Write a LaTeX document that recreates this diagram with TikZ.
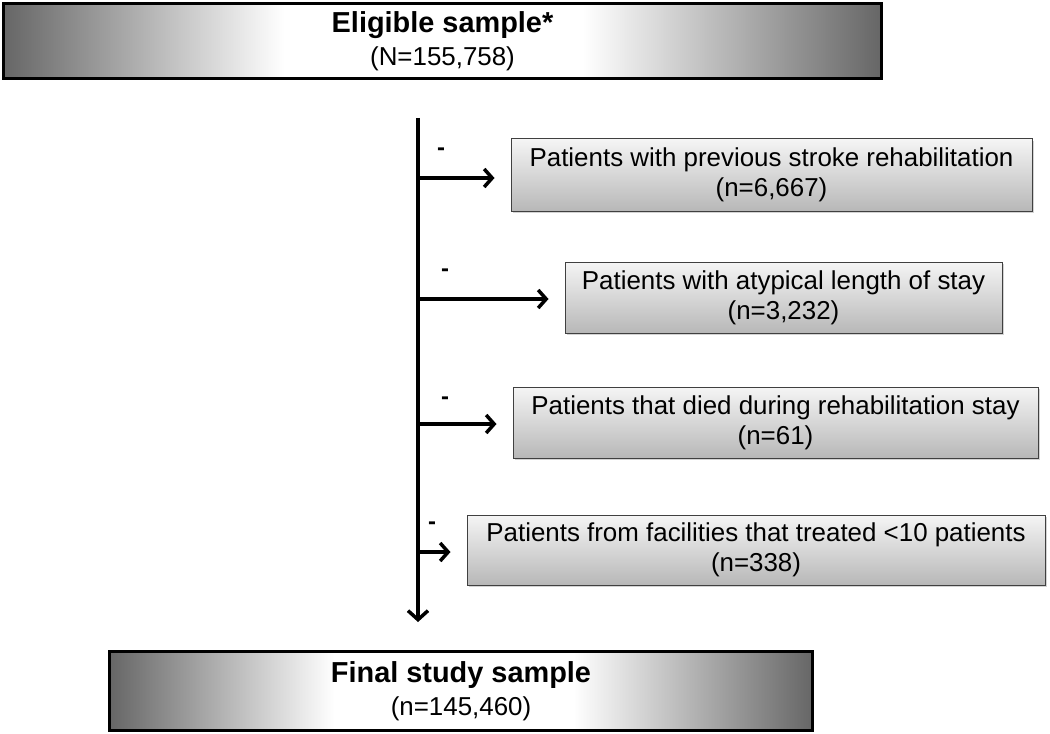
\documentclass[tikz,border=0pt]{standalone}
\usepackage{fontspec}
\setmainfont{Liberation Sans}
\usetikzlibrary{arrows.meta,shadows}
\definecolor{edgegray}{gray}{0.40}
\definecolor{sbtop}{gray}{0.96}
\definecolor{sbbot}{gray}{0.72}
\definecolor{sbline}{gray}{0.25}
\pgfdeclarehorizontalshading{barshade}{100bp}{color(0bp)=(edgegray); color(25bp)=(edgegray); color(41bp)=(white); color(58bp)=(white); color(75bp)=(edgegray); color(100bp)=(edgegray)}
\tikzset{
  mainbox/.style={draw=black, line width=3bp, shading=barshade, inner sep=0bp, align=center, font=\fontsize{26}{33}\selectfont},
  sidebox/.style={draw=sbline, line width=1bp, top color=sbtop, bottom color=sbbot, align=center, inner sep=0bp,
    font=\fontsize{26}{30}\selectfont, drop shadow={opacity=0.35, shadow xshift=2bp, shadow yshift=-2bp}},
  spine/.style={line width=3.5bp, -{Straight Barb[length=9bp,width=20bp,line width=3.5bp]}},
  branch/.style={line width=3.5bp, -{Straight Barb[length=8bp,width=18bp,line width=3.5bp]}, shorten >=16bp},
  minus/.style={font=\bfseries\fontsize{24}{28}\selectfont, inner sep=0pt}
}
\begin{document}
\begin{tikzpicture}[x=1bp,y=-1bp]
\useasboundingbox (0,0) rectangle (1050,734);
\node[mainbox, minimum width=878bp, minimum height=75bp] (top) at (442.5,41)
  {{\bfseries\fontsize{29}{33}\selectfont Eligible sample*}\\(N=155,758)};
\node[mainbox, minimum width=703bp, minimum height=79bp] (bot) at (461,691)
  {{\bfseries\fontsize{29}{33}\selectfont Final study sample}\\(n=145,460)};

\node[sidebox, minimum width=521bp, minimum height=72bp] (s1) at (771.5,175)
  {Patients with previous stroke rehabilitation\\(n=6,667)};
\node[sidebox, minimum width=437bp, minimum height=71bp] (s2) at (783.5,297.5)
  {Patients with atypical length of stay\\(n=3,232)};
\node[sidebox, minimum width=525bp, minimum height=71bp] (s3) at (775.5,422.5)
  {Patients that died during rehabilitation stay\\(n=61)};
\node[sidebox, minimum width=578bp, minimum height=70bp] (s4) at (756,550)
  {Patients from facilities that treated <10 patients\\(n=338)};

\coordinate (vtop) at (418,118);
\coordinate (vbot) at (418,622);
\draw[spine] (vtop) -- (vbot);

\coordinate (b1) at (418,178);
\coordinate (b2) at (418,299);
\coordinate (b3) at (418,424);
\coordinate (b4) at (418,552);
\draw[branch] (b1) -- (b1 -| s1.west);
\draw[branch] (b2) -- (b2 -| s2.west);
\draw[branch] (b3) -- (b3 -| s3.west);
\draw[branch] (b4) -- (b4 -| s4.west);

\node[minus] (m1) at (441,152) {-};
\node[minus] (m2) at (445,273) {-};
\node[minus] (m3) at (445,401) {-};
\node[minus] (m4) at (432,526) {-};
\end{tikzpicture}
\end{document}
